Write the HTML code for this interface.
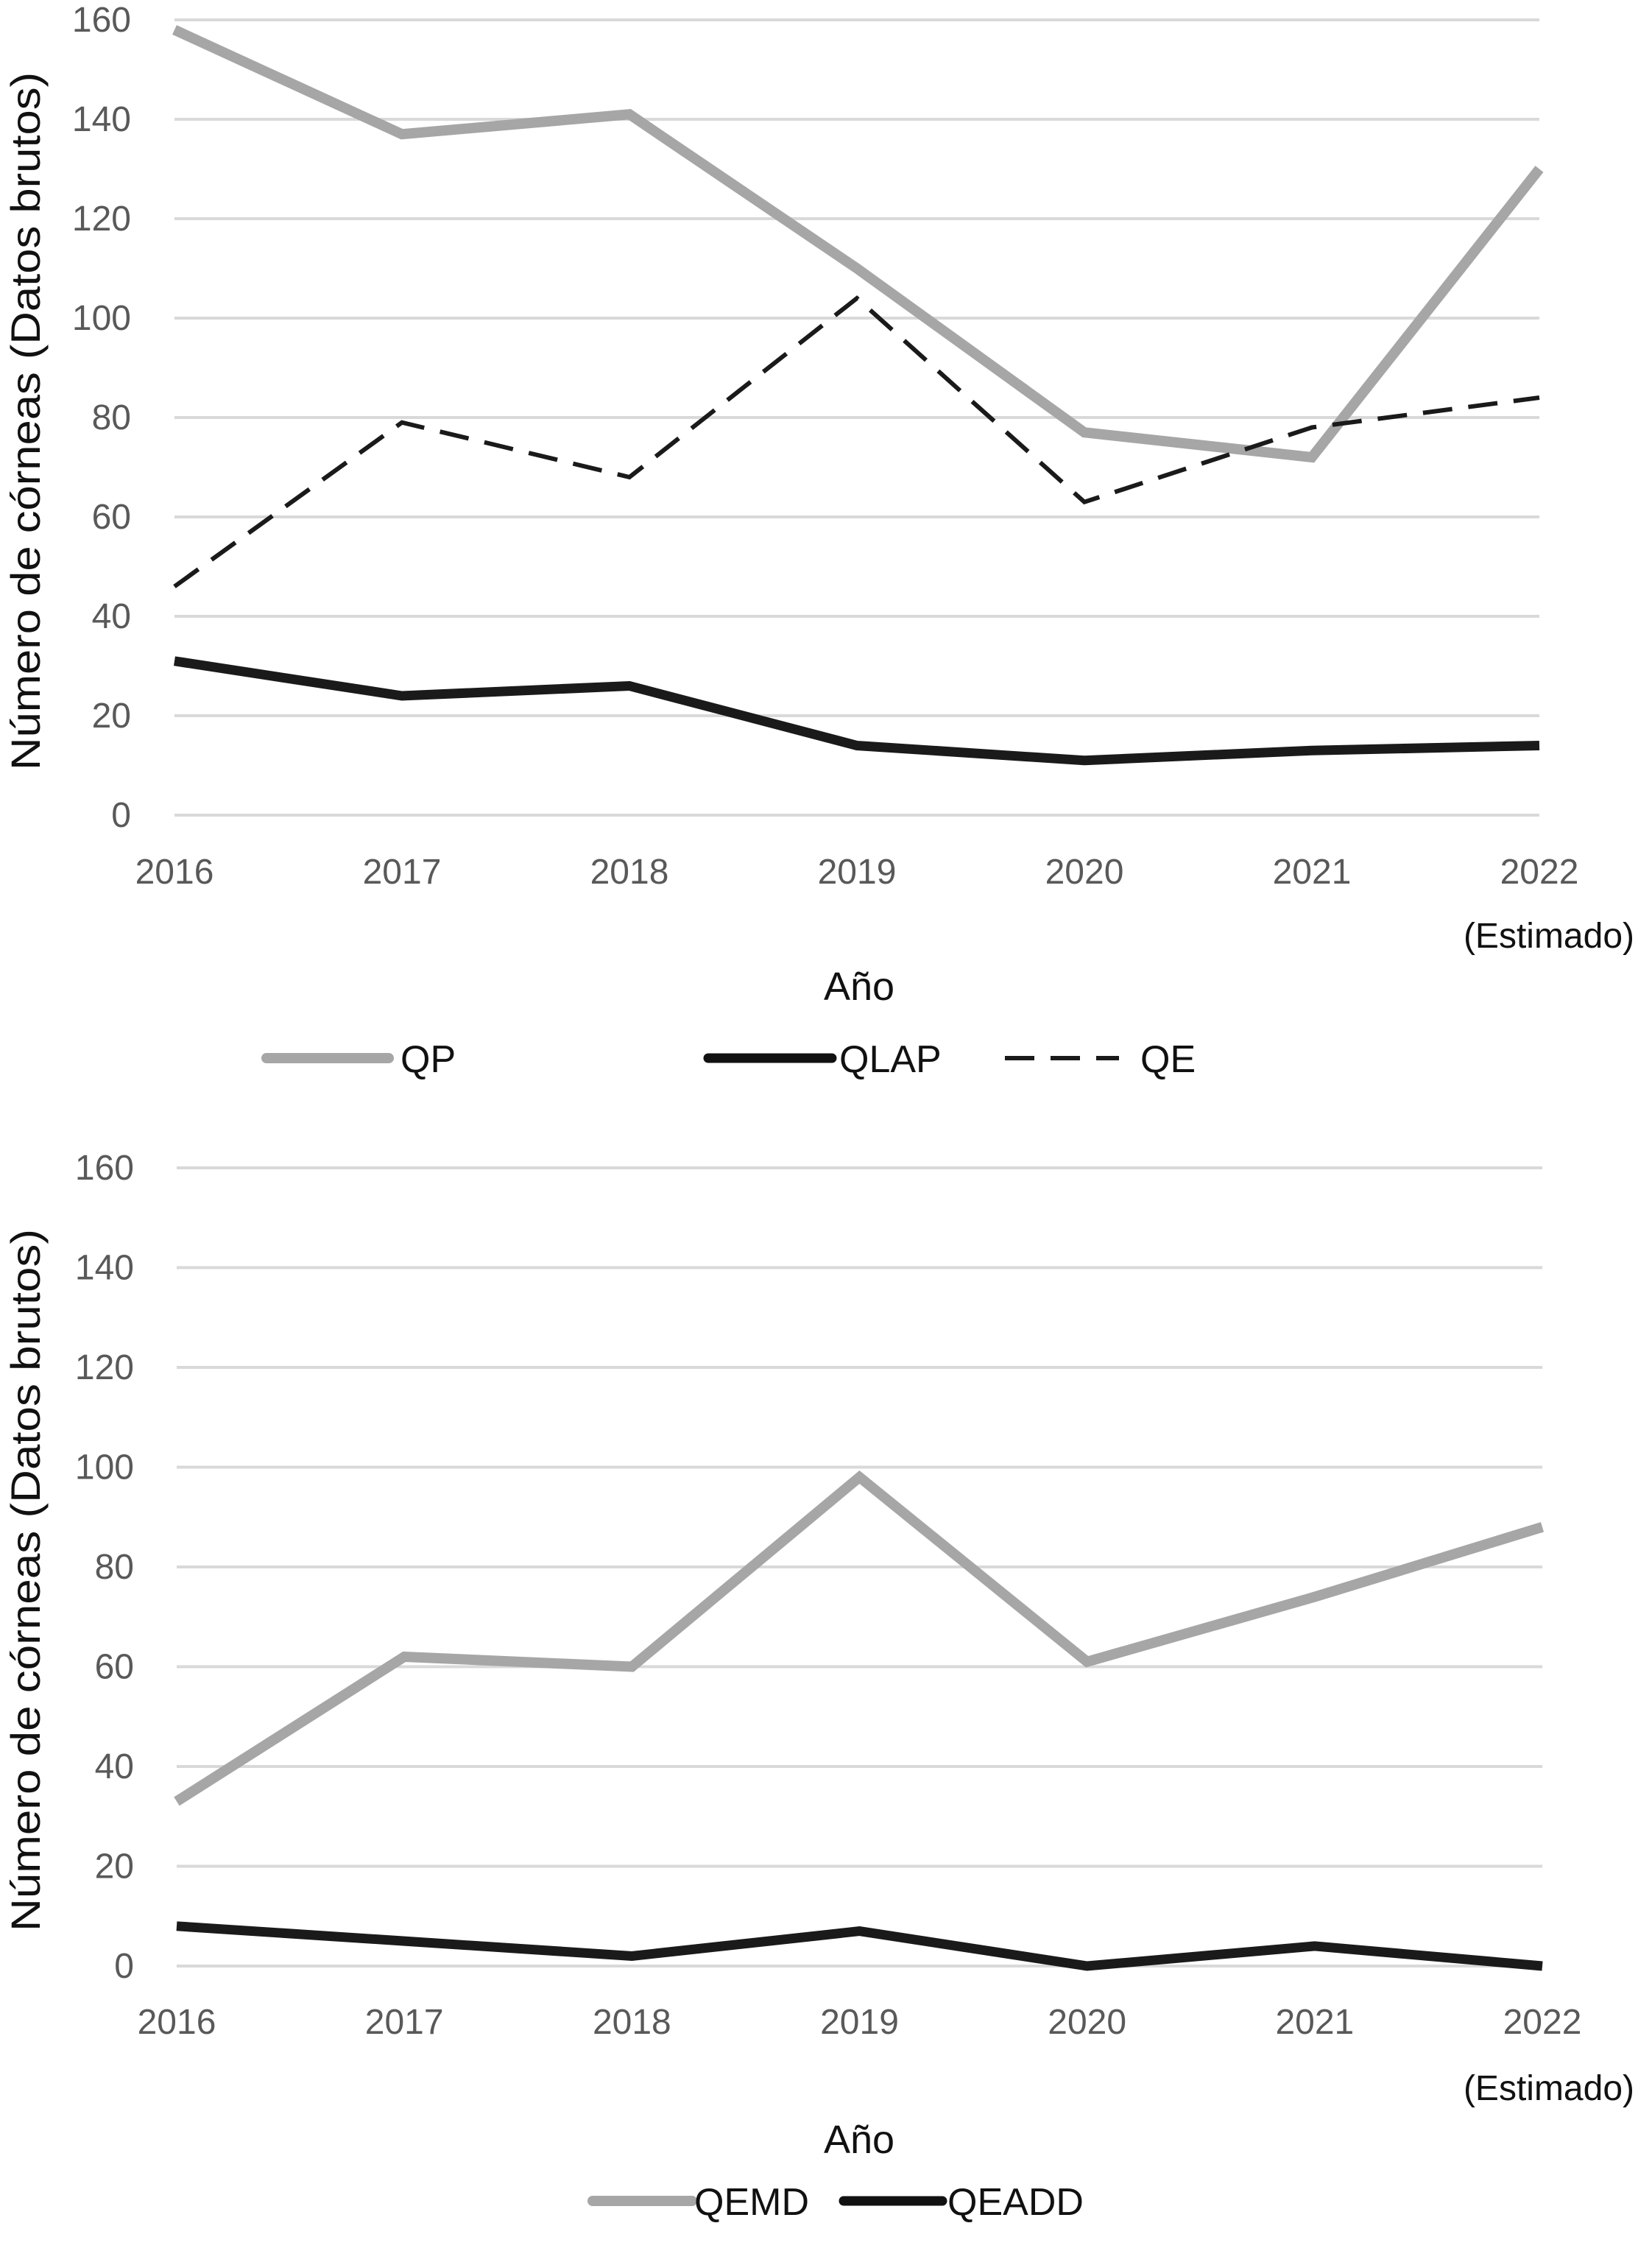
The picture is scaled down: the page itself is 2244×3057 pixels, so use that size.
<!DOCTYPE html>
<html><head><meta charset="utf-8"><style>
html,body{margin:0;padding:0;background:#fff;}
svg{display:block;font-family:"Liberation Sans",sans-serif;}
</style></head><body>
<svg id="c" width="2244" height="3057" viewBox="0 0 2244 3057" xmlns="http://www.w3.org/2000/svg"></svg>
<script>
const years = ["2016","2017","2018","2019","2020","2021","2022"];
const yTicks = [0,20,40,60,80,100,120,140,160];
const qpValues = [158,137,141,110,77,72,130];
const qlapValues = [31,24,26,14,11,13,14];
const qeValues = [46,79,68,104,63,78,84];
const qemdValues = [33,62,60,98,61,74,88];
const qeaddValues = [8,5,2,7,0,4,0];

const NS = "http://www.w3.org/2000/svg";
const svg = document.getElementById("c");
function mk(tag, attrs, parent){
  const e = document.createElementNS(NS, tag);
  for (const k in attrs) e.setAttribute(k, attrs[k]);
  (parent||svg).appendChild(e);
  return e;
}
function drawChart(prefix, cfg, seriesList, legendItems){
  const g = mk("g", {});
  
  
  const x = i => cfg.x0 + (cfg.x1 - cfg.x0) * i / (years.length - 1);
  const y = v => cfg.y0 - (cfg.y0 - cfg.y160) * v / 160;
  yTicks.forEach(t => {
    const l = mk("line", {x1: cfg.x0, x2: cfg.x1, y1: y(t), y2: y(t), stroke: "#d9d9d9", "stroke-width": 4}, g);
    
    
    const tx = mk("text", {x: cfg.labelX, y: y(t) + 16, "text-anchor": "end", "font-size": 48, fill: "#595959"}, g);
    tx.textContent = t;
    
    
  });
  years.forEach((yr, i) => {
    const tx = mk("text", {x: x(i), y: cfg.xLabelY, "text-anchor": "middle", "font-size": 48, fill: "#595959"}, g);
    tx.textContent = yr;
    
    
  });
  const est = mk("text", {x: 2220, y: cfg.estY, "text-anchor": "end", "font-size": 48, fill: "#111"}, g);
  est.textContent = "(Estimado)";
  
  
  const xt = mk("text", {x: 1167, y: cfg.xTitleY, "text-anchor": "middle", "font-size": 54, fill: "#111"}, g);
  xt.textContent = "Año";
  
  
  const yt = mk("text", {x: 0, y: 0, "text-anchor": "middle", "font-size": 56, fill: "#111", textLength: cfg.ytLen, lengthAdjust: "spacingAndGlyphs", transform: "translate(54," + cfg.ytCenter + ") rotate(-90)"}, g);
  yt.textContent = "Número de córneas (Datos brutos)";
  
  
  seriesList.forEach(s => {
    const pts = s.values.map((v, i) => x(i) + "," + y(v)).join(" ");
    const attrs = {points: pts, fill: "none", stroke: s.color, "stroke-width": s.w, "stroke-linejoin": "miter"};
    if (s.dash) attrs["stroke-dasharray"] = s.dash;
    const p = mk("polyline", attrs, g);
    
    
  });
  legendItems.forEach(it => {
    const la = {x1: it.lx1, x2: it.lx2, y1: cfg.legY, y2: cfg.legY, stroke: it.color, "stroke-width": it.w, "stroke-linecap": it.dash ? "butt" : "round"};
    if (it.dash) la["stroke-dasharray"] = it.dash;
    const l = mk("line", la, g);
    
    
    const t = mk("text", {x: it.tx, y: cfg.legY + 19, "font-size": 52, fill: "#111"}, g);
    t.textContent = it.label;
    
    
  });
}
drawChart("top", {x0: 237, x1: 2091, y160: 27, y0: 1107, labelX: 178, xLabelY: 1200, estY: 1287, xTitleY: 1358, ytCenter: 572, ytLen: 948, legY: 1437},
  [{name: "qp", values: qpValues, color: "#a6a6a6", w: 14},
   {name: "qe", values: qeValues, color: "#1a1a1a", w: 6, dash: "40 22"},
   {name: "qlap", values: qlapValues, color: "#1a1a1a", w: 13}],
  [{name: "qp", label: "QP", lx1: 362, lx2: 528, color: "#a6a6a6", w: 14, tx: 544},
   {name: "qlap", label: "QLAP", lx1: 962, lx2: 1130, color: "#111", w: 13, tx: 1140},
   {name: "qe", label: "QE", lx1: 1365, lx2: 1520, color: "#1a1a1a", w: 6, dash: "40 22", tx: 1549}]);
drawChart("bottom", {x0: 240, x1: 2095, y160: 1586, y0: 2670, labelX: 182, xLabelY: 2762, estY: 2852, xTitleY: 2924, ytCenter: 2146, ytLen: 954, legY: 2989},
  [{name: "qemd", values: qemdValues, color: "#a6a6a6", w: 14},
   {name: "qeadd", values: qeaddValues, color: "#1a1a1a", w: 13}],
  [{name: "qemd", label: "QEMD", lx1: 805, lx2: 940, color: "#a6a6a6", w: 14, tx: 943},
   {name: "qeadd", label: "QEADD", lx1: 1146, lx2: 1280, color: "#111", w: 13, tx: 1287}]);
</script>
</body></html>
